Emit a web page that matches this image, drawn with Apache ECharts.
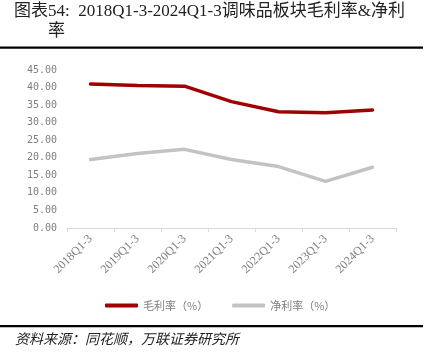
<!DOCTYPE html>
<html><head><meta charset="utf-8">
<script src="https://cdn.jsdelivr.net/npm/echarts@6/dist/echarts.min.js"></script>
<style>html,body{margin:0;padding:0;background:#fff}#c{width:432px;height:364px}</style>
</head><body><div id="c"></div>
<script>
const categories = ['2018Q1-3','2019Q1-3','2020Q1-3','2021Q1-3','2022Q1-3','2023Q1-3','2024Q1-3'];
const grossMargin = [41.0, 40.6, 40.4, 36.0, 33.1, 32.8, 33.6];
const netMargin = [19.5, 21.2, 22.4, 19.5, 17.5, 13.3, 17.3];
const seriesNames = ['毛利率（%）', '净利率（%）'];
const titleLine1 = '图表54:  2018Q1-3-2024Q1-3调味品板块毛利率&净利';
const titleLine2 = '率';
const sourceText = '资料来源：同花顺，万联证券研究所';

const chart = echarts.init(document.getElementById('c'), null, {renderer: 'canvas'});
const serifFont = '"Liberation Serif", "Noto Sans CJK SC", serif';
const labelFont = '"DejaVu Sans Mono", "Liberation Mono", monospace';
chart.setOption({
  animation: false,
  backgroundColor: '#fff',
  graphic: [
    {type: 'text', left: 14, top: 3, style: {text: titleLine1, font: '17px ' + serifFont, fill: '#222'}},
    {type: 'text', left: 48, top: 23, style: {text: titleLine2, font: '17px ' + serifFont, fill: '#222'}},
    {type: 'rect', shape: {x: 0, y: 46.5, width: 423, height: 2.2}, style: {fill: '#000'}},
    {type: 'rect', shape: {x: 0, y: 325, width: 423, height: 2.2}, style: {fill: '#000'}},
    {type: 'text', left: 15, top: 332, style: {text: sourceText, font: 'italic 14px "Noto Sans CJK SC", sans-serif', fill: '#222'}}
  ],
  legend: {
    left: 100, top: 295, itemWidth: 33, itemHeight: 4, itemGap: 24,
    icon: 'roundRect',
    textStyle: {color: '#7f7f7f', fontSize: 11, fontFamily: '"Noto Sans CJK SC", sans-serif'},
    data: seriesNames
  },
  grid: {left: 67, right: 36, top: 70, bottom: 136},
  xAxis: {
    type: 'category', data: categories, boundaryGap: true,
    axisLine: {lineStyle: {color: '#d9d9d9'}},
    axisTick: {show: true, lineStyle: {color: '#d9d9d9'}, length: 4},
    axisLabel: {rotate: 45, color: '#7f7f7f', fontSize: 12, fontFamily: serifFont, margin: 9}
  },
  yAxis: {
    type: 'value', min: 0, max: 45, interval: 5,
    axisLine: {show: false}, axisTick: {show: false},
    splitLine: {show: false},
    axisLabel: {color: '#7f7f7f', fontSize: 10, fontFamily: labelFont, margin: 10,
      formatter: v => v.toFixed(2)}
  },
  series: [
    {name: seriesNames[0], type: 'line', data: grossMargin, symbol: 'none',
     lineStyle: {color: '#A00000', width: 3.5, cap: 'round'}, itemStyle: {color: '#A00000'}},
    {name: seriesNames[1], type: 'line', data: netMargin, symbol: 'none',
     lineStyle: {color: '#C3C3C3', width: 3.5, cap: 'round'}, itemStyle: {color: '#C3C3C3'}}
  ]
});
</script></body></html>
